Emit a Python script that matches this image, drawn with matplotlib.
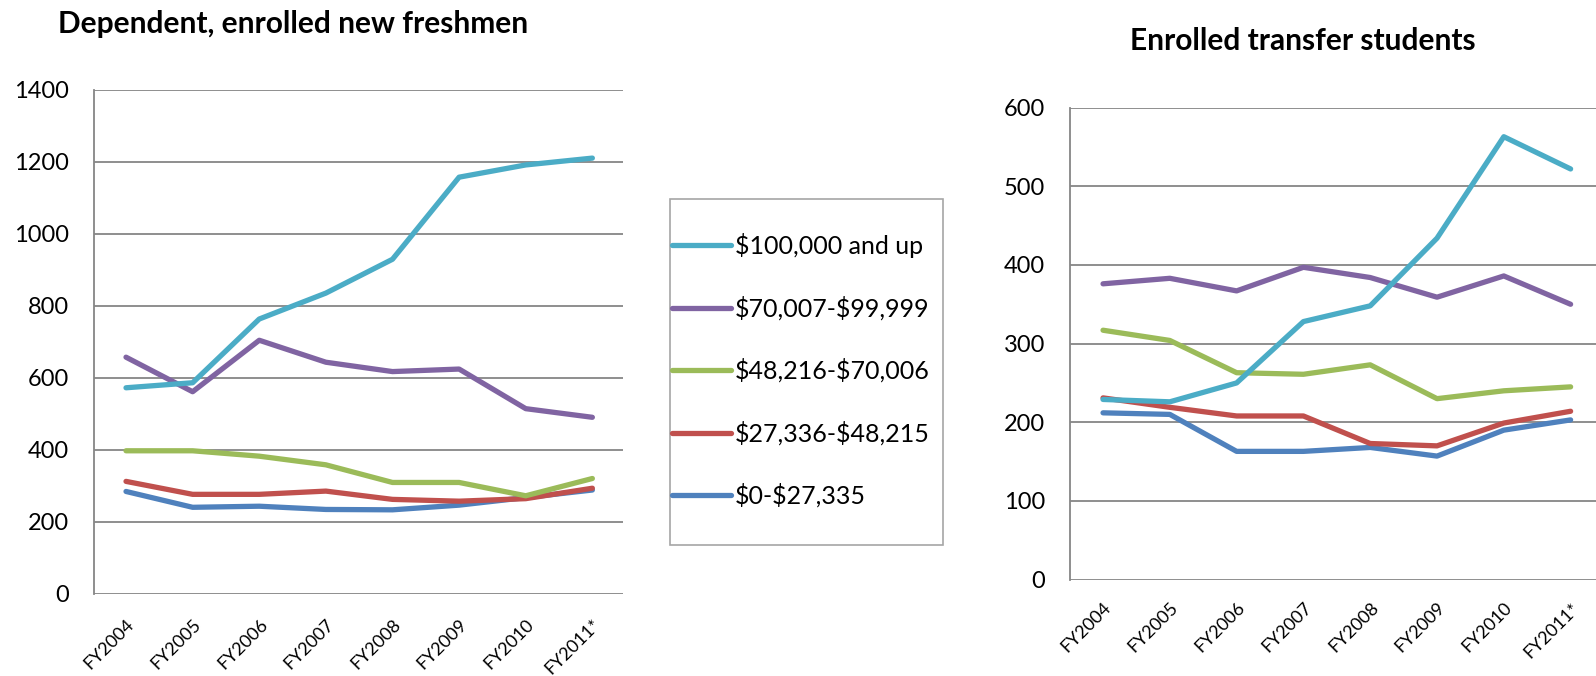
import matplotlib
matplotlib.use("Agg")
import matplotlib.pyplot as plt
from matplotlib.patches import Rectangle

plt.rcParams['font.family'] = ['Lato', 'DejaVu Sans']

years = ['FY2004', 'FY2005', 'FY2006', 'FY2007', 'FY2008', 'FY2009', 'FY2010', 'FY2011*']
brackets = ['$100,000 and up', '$70,007-$99,999', '$48,216-$70,006',
            '$27,336-$48,215', '$0-$27,335']
colors = ['#4BACC6', '#8064A2', '#9BBB59', '#C0504D', '#4F81BD']

# dependent, enrolled new freshmen, by family income bracket
fresh_100k = [572, 586, 763, 835, 929, 1157, 1191, 1210]
fresh_70k = [657, 561, 704, 643, 617, 624, 514, 490]
fresh_48k = [397, 397, 382, 358, 309, 309, 272, 320]
fresh_27k = [312, 276, 276, 285, 262, 257, 264, 293]
fresh_0k = [284, 240, 243, 234, 233, 246, 267, 288]

# enrolled transfer students, same brackets
trans_100k = [229, 226, 250, 328, 348, 434, 563, 522]
trans_70k = [376, 383, 367, 397, 384, 359, 386, 350]
trans_48k = [317, 304, 263, 261, 273, 230, 240, 245]
trans_27k = [231, 219, 208, 208, 173, 170, 199, 214]
trans_0k = [212, 210, 163, 163, 168, 157, 190, 203]

fresh = [fresh_100k, fresh_70k, fresh_48k, fresh_27k, fresh_0k]
trans = [trans_100k, trans_70k, trans_48k, trans_27k, trans_0k]

W, H = 1596, 676
fig = plt.figure(figsize=(W / 100, H / 100), dpi=100)
grid_col = '#868686'


def px_axes(left, top, right, bottom):
    return fig.add_axes([left / W, 1 - bottom / H, (right - left) / W, (bottom - top) / H])


def style(ax, ymax, step, xlim, xpad):
    ax.set_ylim(0, ymax)
    ax.set_yticks(range(0, ymax + 1, step))
    ax.set_xlim(*xlim)
    ax.set_xticks(range(len(years)))
    ax.set_xticklabels(years, rotation=45, ha='right', va='top',
                       rotation_mode='anchor', fontsize=13)
    ax.tick_params(axis='y', length=0, pad=18, labelsize=17)
    ax.tick_params(axis='x', length=0, pad=xpad)
    ax.grid(axis='y', color=grid_col, lw=1.3)
    ax.set_axisbelow(True)
    for s in ['top', 'right', 'bottom']:
        ax.spines[s].set_visible(False)
    ax.spines['left'].set_color(grid_col)
    ax.spines['left'].set_linewidth(1.3)


def draw(ax, series):
    x = range(len(years))
    lines = []
    # lowest bracket drawn first, highest on top
    for vals, c in reversed(list(zip(series, colors))):
        ln, = ax.plot(x, vals, color=c, lw=3.8,
                      solid_capstyle='round', solid_joinstyle='round')
        lines.append(ln)
    return lines[::-1]


ax1 = px_axes(93.7, 89.7, 623, 593.7)
lines = draw(ax1, fresh)
style(ax1, 1400, 200, (-0.485, 7.46), 16)

ax2 = px_axes(1070.3, 107.6, 1600, 579.6)
draw(ax2, trans)
style(ax2, 600, 100, (-0.49, 7.44), 14.5)

fig.text(58 / W, 1 - 33 / H, 'Dependent, enrolled new freshmen',
         fontsize=21.5, fontweight='bold', ha='left', va='baseline')
fig.text(1303 / W, 1 - 50 / H, 'Enrolled transfer students',
         fontsize=21.5, fontweight='bold', ha='center', va='baseline')

# legend frame, drawn separately for the uneven padding
fig.patches.append(Rectangle((670 / W, 1 - 545 / H), (943 - 670) / W, (545 - 199) / H,
                             transform=fig.transFigure, facecolor='white',
                             edgecolor='#A6A6A6', lw=1.2, zorder=0))
leg_labels = [b.replace('$', r'\$') for b in brackets]
fig.legend(lines, leg_labels, loc='upper left', bbox_to_anchor=(672 / W, 1 - 233 / H),
           frameon=False, borderpad=0, borderaxespad=0, fontsize=18,
           handlelength=2.36, handletextpad=0.16, labelspacing=1.52)

fig.savefig('out.png', dpi=100, facecolor='white')
